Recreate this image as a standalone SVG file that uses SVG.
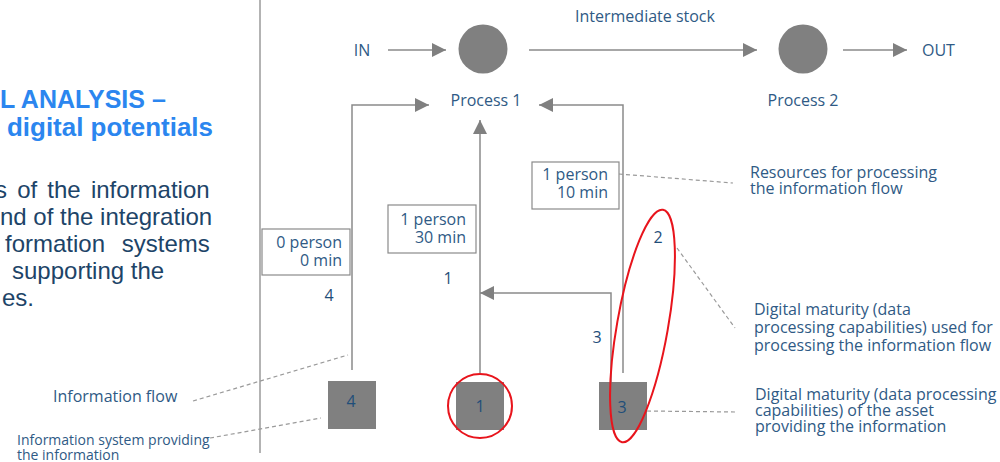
<svg xmlns="http://www.w3.org/2000/svg" width="1000" height="462" viewBox="0 0 1000 462">
  <style>
    .title { font-family: "Liberation Sans", Arial, sans-serif; font-weight: bold; font-size: 25px; fill: #2b86ef; }
    .body { font-family: "Liberation Sans", Arial, sans-serif; font-size: 24px; fill: #1d4468; }
    .lbl { font-family: "Open Sans", "Noto Sans", sans-serif; font-size: 16px; fill: #2f5a85; }
    .note { font-family: "Open Sans", "Noto Sans", sans-serif; font-size: 16px; fill: #2f5a85; }
    .small { font-family: "Open Sans", "Noto Sans", sans-serif; font-size: 14px; fill: #2f5a85; }
    .num { font-family: "Open Sans", "Noto Sans", sans-serif; font-size: 16px; fill: #1f4e79; }
    .flow { fill: none; stroke: #8a8a8a; stroke-width: 1.5; }
    .lead { fill: none; stroke: #9a9a9a; stroke-width: 1.2; stroke-dasharray: 4 3; }
    .node { fill: #808080; }
    .res { fill: #ffffff; stroke: #8a8a8a; stroke-width: 1.2; }
    .mark { fill: none; stroke: #e8141c; stroke-width: 2; }
  </style>
  <defs>
    <marker id="arrow" viewBox="0 0 14 14" refX="14" refY="7" markerWidth="14" markerHeight="14" markerUnits="userSpaceOnUse" orient="auto">
      <path d="M0,0 L14,7 L0,14 z" fill="#808080"/>
    </marker>
  </defs>

  <rect width="1000" height="462" fill="#ffffff"/>

  <!-- left column text -->
  <g id="heading">
    <text class="title" x="0" y="108">L ANALYSIS –</text>
    <text class="title" x="7" y="136" textLength="206" lengthAdjust="spacingAndGlyphs">digital potentials</text>
  </g>
  <g id="description">
    <text class="body" x="-5" y="198" word-spacing="3.5">s of the information</text>
    <text class="body" x="0" y="225">nd of the integration</text>
    <text class="body" x="5" y="252" word-spacing="10">formation systems</text>
    <text class="body" x="12" y="279">supporting the</text>
    <text class="body" x="2" y="306">es.</text>
  </g>

  <!-- divider -->
  <line x1="260" y1="0" x2="260" y2="453" stroke="#9a9a9a" stroke-width="1.5"/>

  <!-- connectors -->
  <g id="connectors">
    <line class="flow" x1="388" y1="50" x2="446" y2="50" marker-end="url(#arrow)"/>
    <line class="flow" x1="529" y1="50" x2="757" y2="50" marker-end="url(#arrow)"/>
    <line class="flow" x1="843" y1="50" x2="907" y2="50" marker-end="url(#arrow)"/>
    <path class="flow" d="M352,370 V105 H429" marker-end="url(#arrow)"/>
    <path class="flow" d="M480,373 V120" marker-end="url(#arrow)"/>
    <path class="flow" d="M623,373 V105 H539" marker-end="url(#arrow)"/>
    <path class="flow" d="M611,382 V293 H480" marker-end="url(#arrow)"/>
    <!-- leader lines to annotations -->
    <line class="lead" x1="619" y1="174" x2="733" y2="183"/>
    <line class="lead" x1="677" y1="248" x2="735" y2="328"/>
    <line class="lead" x1="647" y1="411" x2="737" y2="412"/>
    <line class="lead" x1="193" y1="401" x2="348" y2="355"/>
    <line class="lead" x1="210" y1="438" x2="321" y2="418"/>
  </g>

  <!-- process nodes -->
  <g id="in"><text class="lbl" x="362" y="56" text-anchor="middle">IN</text></g>
  <g id="process1">
    <circle class="node" cx="483" cy="49" r="24.5"/>
    <text class="lbl" x="486" y="106" text-anchor="middle">Process 1</text>
  </g>
  <g id="stock"><text class="lbl" x="645" y="22" text-anchor="middle">Intermediate stock</text></g>
  <g id="process2">
    <circle class="node" cx="803" cy="49" r="24.5"/>
    <text class="lbl" x="803" y="106" text-anchor="middle">Process 2</text>
  </g>
  <g id="out"><text class="lbl" x="922" y="56">OUT</text></g>

  <!-- resource boxes -->
  <g id="res4">
    <rect class="res" x="262" y="229" width="88" height="46"/>
    <text class="lbl" x="342" y="248" text-anchor="end">0 person</text>
    <text class="lbl" x="342" y="266" text-anchor="end">0 min</text>
  </g>
  <g id="res1">
    <rect class="res" x="388" y="205" width="88" height="48"/>
    <text class="lbl" x="466" y="225" text-anchor="end">1 person</text>
    <text class="lbl" x="466" y="243" text-anchor="end">30 min</text>
  </g>
  <g id="res3">
    <rect class="res" x="532" y="162" width="87" height="47"/>
    <text class="lbl" x="608" y="180" text-anchor="end">1 person</text>
    <text class="lbl" x="608" y="198" text-anchor="end">10 min</text>
  </g>

  <!-- flow numbers -->
  <g id="flow-numbers">
    <text class="num" x="329" y="301" text-anchor="middle">4</text>
    <text class="num" x="448" y="284" text-anchor="middle">1</text>
    <text class="num" x="658" y="243" text-anchor="middle">2</text>
    <text class="num" x="597" y="343" text-anchor="middle">3</text>
  </g>

  <!-- information systems -->
  <g id="system4">
    <rect class="node" x="328" y="381" width="48" height="48"/>
    <text class="num" x="351" y="407" text-anchor="middle">4</text>
  </g>
  <g id="system1">
    <rect class="node" x="456" y="382" width="48" height="48"/>
    <text class="num" x="480" y="412" text-anchor="middle">1</text>
    <circle class="mark" cx="480" cy="406" r="32"/>
  </g>
  <g id="system3">
    <rect class="node" x="599" y="382" width="48" height="48"/>
    <text class="num" x="622" y="413" text-anchor="middle">3</text>
  </g>
  <ellipse class="mark" cx="642.5" cy="326" rx="25.5" ry="118" transform="rotate(10 642.5 326)"/>

  <!-- annotations -->
  <g id="note-resources">
    <text class="note" x="750" y="178">Resources for processing</text>
    <text class="note" x="750" y="194">the information flow</text>
  </g>
  <g id="note-maturity-flow">
    <text class="note" x="754" y="315">Digital maturity (data</text>
    <text class="note" x="754" y="333">processing capabilities) used for</text>
    <text class="note" x="754" y="351">processing the information flow</text>
  </g>
  <g id="note-maturity-asset">
    <text class="note" x="755" y="400">Digital maturity (data processing</text>
    <text class="note" x="755" y="416">capabilities) of the asset</text>
    <text class="note" x="755" y="432">providing the information</text>
  </g>
  <g id="note-flow"><text class="note" x="53" y="402">Information flow</text></g>
  <g id="note-system">
    <text class="small" x="17" y="445">Information system providing</text>
    <text class="small" x="17" y="460">the information</text>
  </g>
</svg>
